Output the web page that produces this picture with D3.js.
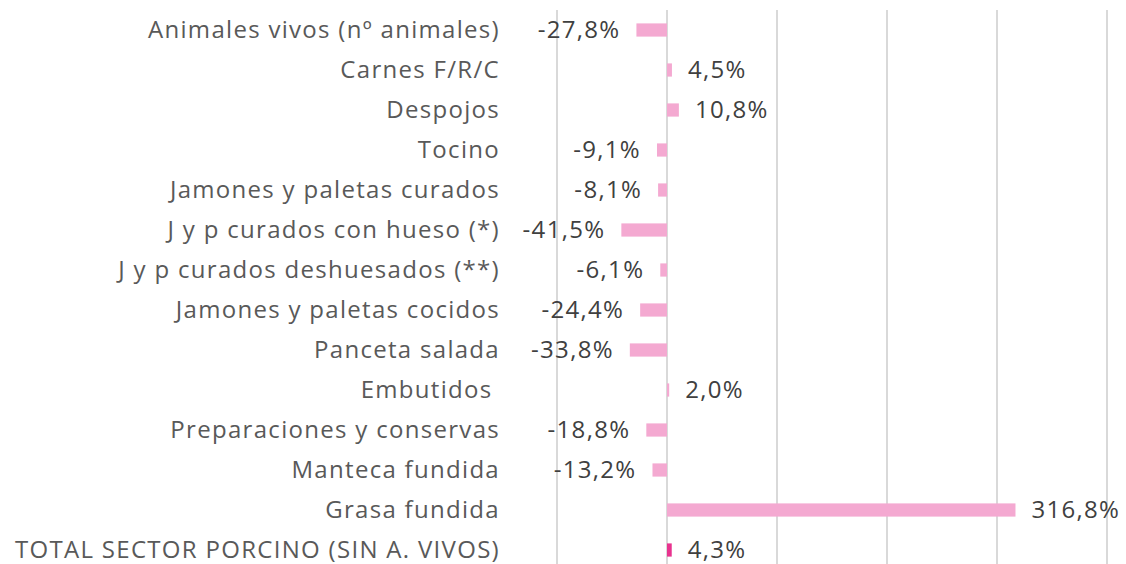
<!DOCTYPE html>
<html><head><meta charset="utf-8">
<script src="https://cdn.jsdelivr.net/npm/d3@7"></script>
<style>body{margin:0;background:#fff}</style>
</head><body>
<svg id="c" width="1126" height="564"></svg>
<script>
const categories = ["Animales vivos (nº animales)","Carnes F/R/C","Despojos","Tocino","Jamones y paletas curados","J y p curados con hueso (*)","J y p curados deshuesados (**)","Jamones y paletas cocidos","Panceta salada","Embutidos ","Preparaciones y conservas","Manteca fundida","Grasa fundida","TOTAL SECTOR PORCINO (SIN A. VIVOS)"];
const values = [-27.8,4.5,10.8,-9.1,-8.1,-41.5,-6.1,-24.4,-33.8,2.0,-18.8,-13.2,316.8,4.3];
const gridTicks = [-100,0,100,200,300,400];

const svg = d3.select("#c");
const x = d3.scaleLinear().domain([-100,400]).range([557,1107]);
const y = d3.scaleBand().domain(categories).range([10,570]).paddingInner(0.67).paddingOuter(0.335);
const font = "'Open Sans', sans-serif";

svg.append("g").selectAll("line").data(gridTicks).join("line")
  .attr("x1",d=>x(d)).attr("x2",d=>x(d)).attr("y1",10).attr("y2",570)
  .attr("stroke","#d9d9d9").attr("stroke-width",2);

svg.append("g").selectAll("rect").data(values).join("rect")
  .attr("x",d=>x(Math.min(0,d))).attr("width",d=>Math.abs(x(d)-x(0)))
  .attr("y",(d,i)=>y(categories[i])).attr("height",y.bandwidth())
  .attr("fill",(d,i)=>i===values.length-1?"#e8338f":"#f4a9d1");

const fmt = v => v.toFixed(1).replace(".",",")+"%";
svg.append("g").selectAll("text").data(values).join("text")
  .attr("x",d=>d<0?x(d)-16:x(d)+16)
  .attr("y",(d,i)=>y(categories[i])+y.bandwidth()/2)
  .attr("dy","0.35em")
  .attr("text-anchor",d=>d<0?"end":"start")
  .attr("font-family",font).attr("font-size",24).attr("letter-spacing","1.3px").attr("fill","#404040")
  .text(fmt);

svg.append("g").selectAll("text").data(categories).join("text")
  .attr("x",500).attr("y",d=>y(d)+y.bandwidth()/2).attr("dy","0.35em")
  .attr("text-anchor","end").attr("font-family",font).attr("font-size",24).attr("letter-spacing","1.3px").attr("fill","#595959")
  .attr("xml:space","preserve")
  .text(d=>d);
</script>
</body></html>
